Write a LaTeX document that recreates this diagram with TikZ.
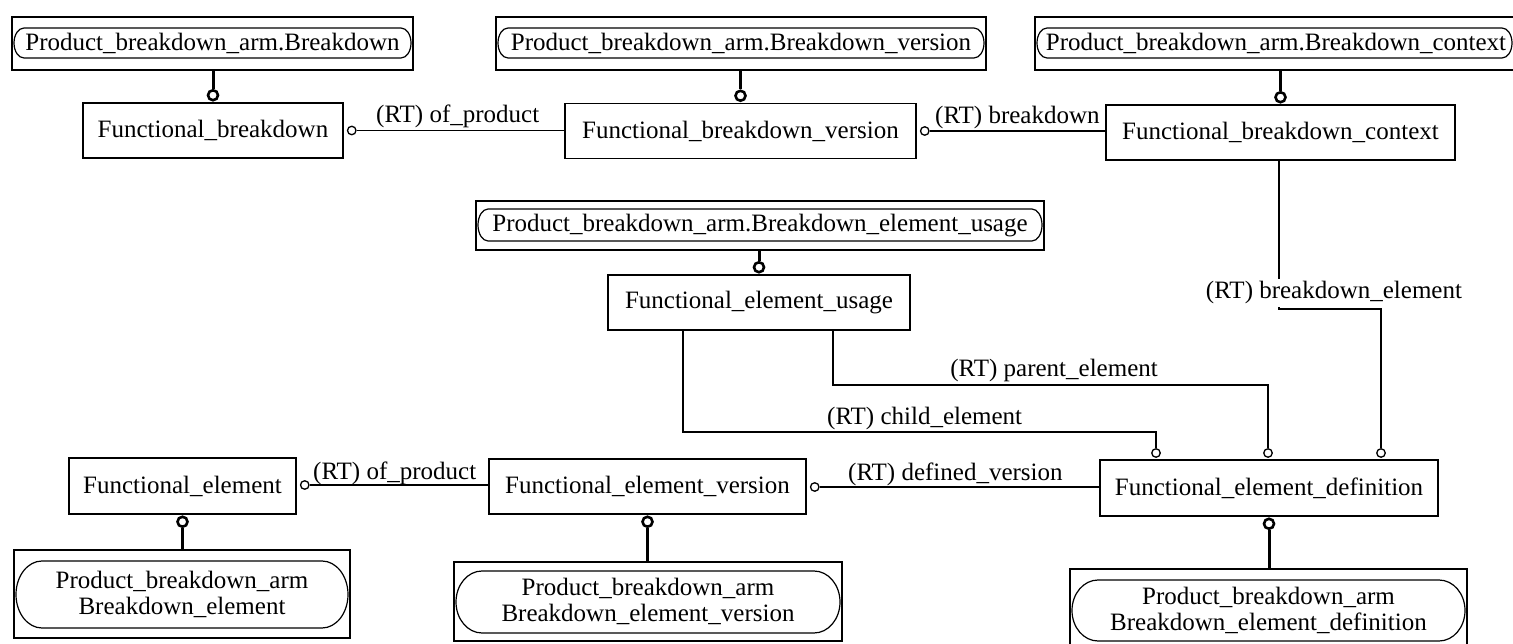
\documentclass[tikz,border=0pt]{standalone}
\usepackage{fontspec}
\setmainfont{Liberation Serif}
\usetikzlibrary{calc}
\newcommand\pbstad[5]{%
  \draw[inl] ({#1+#5},#2) -- ({#3-#5},#2)
    arc[start angle=-90,end angle=90,x radius=#5,y radius={(#4-#2)/2}]
    -- ({#1+#5},#4)
    arc[start angle=90,end angle=270,x radius=#5,y radius={(#4-#2)/2}] -- cycle;}
\begin{document}
\begin{tikzpicture}[x=1pt,y=-1pt,
  font=\fontsize{25}{26}\selectfont,
  ent/.style={draw, line width=1.5pt, inner sep=0pt, align=center},
  inl/.style={line width=1.2pt},
  conn/.style={line width=1.4pt},
  thk/.style={line width=3pt},
  scirc/.style={circle, draw, line width=1.3pt, inner sep=0pt, minimum size=8.5pt, fill=white},
  tcirc/.style={circle, draw, line width=2.6pt, inner sep=0pt, minimum size=10pt, fill=white},
  lbl/.style={inner sep=0pt}]
\useasboundingbox (0,0) rectangle (1513,644);
\clip (0,0) rectangle (1513,644);
\fill[white] (0,0) rectangle (1513,644);

% ---- top row ----
\node[ent, minimum width=401pt, minimum height=53pt] (pa) at (212.5,43.5) {Product\_breakdown\_arm.Breakdown};
\pbstad{14}{28}{411}{58}{10}
\node[ent, minimum width=490pt, minimum height=53pt] (pb) at (741,43.5) {Product\_breakdown\_arm.Breakdown\_version};
\pbstad{498}{28}{984}{58}{10}
\node[ent, minimum width=482pt, minimum height=53pt] (pc) at (1276,43.5) {Product\_breakdown\_arm.Breakdown\_context};
\pbstad{1037}{28}{1512}{58}{10}

\node[ent, minimum width=260pt, minimum height=55pt] (fb) at (213,130.5) {Functional\_breakdown};
\node[ent, minimum width=351pt, minimum height=55pt] (fbv) at (740.5,131) {Functional\_breakdown\_version};
\node[ent, minimum width=349pt, minimum height=55pt] (fbc) at (1280.5,132.5) {Functional\_breakdown\_context};

% thick supertype links (top)
\node[tcirc] (ta) at ($(fb.north)+(0,-7)$) {};
\draw[thk] (pa.south -| ta) -- (ta.north);
\node[tcirc] (tb) at ($(fbv.north)+(0,-7)$) {};
\draw[thk] (pb.south -| tb) -- (tb.north);
\node[tcirc] (tc) at ($(fbc.north)+(0,-7)$) {};
\draw[thk] (pc.south -| tc) -- (tc.north);

% of_product (top)
\node[scirc] (s1) at ($(fb.east)+(8,0)$) {};
\draw[conn] (s1.east) -- (s1 -| fbv.west);
\node[lbl, anchor=base west] (l1) at (376,123) {(RT) of\_product};
% breakdown
\node[scirc] (s2) at ($(fbv.east)+(8,0)$) {};
\draw[conn] (s2.east) -- (s2 -| fbc.west);
\node[lbl, anchor=base west] (l2) at (935,124) {(RT) breakdown};

% ---- middle ----
\node[ent, minimum width=568pt, minimum height=49pt] (pu) at (760,225.5) {Product\_breakdown\_arm.Breakdown\_element\_usage};
\pbstad{478}{209}{1042}{241}{10}
\node[ent, minimum width=302pt, minimum height=55pt] (feu) at (759,302.5) {Functional\_element\_usage};
\node[tcirc] (tu) at ($(feu.north)+(0,-7)$) {};
\draw[thk] (pu.south -| tu) -- (tu.north);

% ---- bottom row ----
\node[ent, minimum width=227pt, minimum height=56pt] (fe) at (182.5,486) {Functional\_element};
\node[ent, minimum width=317pt, minimum height=55pt] (fev) at (647.5,486.5) {Functional\_element\_version};
\node[ent, minimum width=338pt, minimum height=56pt] (fed) at (1269,488) {Functional\_element\_definition};

\node[ent, minimum width=336pt, minimum height=88pt] (pe) at (182,594) {Product\_breakdown\_arm\\Breakdown\_element};
\pbstad{16}{561}{348}{628}{26}
\node[ent, minimum width=388pt, minimum height=79pt] (pev) at (648,601.5) {Product\_breakdown\_arm\\Breakdown\_element\_version};
\pbstad{456}{571}{840}{633}{26}
\node[ent, minimum width=397pt, minimum height=82pt] (ped) at (1268.5,610) {Product\_breakdown\_arm\\Breakdown\_element\_definition};
\pbstad{1072}{580}{1465}{641}{26}

% thick supertype links (bottom)
\node[tcirc] (te) at ($(fe.south)+(0,7)$) {};
\draw[thk] (te.south) -- (te |- pe.north);
\node[tcirc] (tv) at ($(fev.south)+(0,7)$) {};
\draw[thk] (tv.south) -- (tv |- pev.north);
\node[tcirc] (td) at ($(fed.south)+(0,7)$) {};
\draw[thk] (td.south) -- (td |- ped.north);

% of_product (bottom)
\node[scirc] (s3) at ($(fe.east)+(8,-1)$) {};
\draw[conn] (s3.east) -- (s3 -| fev.west);
\node[lbl, anchor=base west] (l3) at (313,479) {(RT) of\_product};
% defined_version
\node[scirc] (s4) at ($(fev.east)+(8,0.5)$) {};
\draw[conn] (s4.east) -- (s4 -| fed.west);
\node[lbl, anchor=base west] (l4) at (848,480) {(RT) defined\_version};

% relations into Functional_element_definition
\node[scirc] (cc) at (1156,453) {};
\node[scirc] (cp) at (1268,453) {};
\node[scirc] (cb) at (1381,453) {};
\coordinate (chs) at (683,330);
\coordinate (pas) at (833,330);
\draw[conn] (chs) -- (683,432) -- (cc |- 0,432) -- (cc.north);
\draw[conn] (pas) -- (833,385) -- (cp |- 0,385) -- (cp.north);
\draw[conn] (fbc.south -| 1279,0) -- (1279,309) -- (cb |- 0,309) -- (cb.north);
\node[lbl, anchor=base west] (l5) at (827,424) {(RT) child\_element};
\node[lbl, anchor=base east] (l6) at (1158,376) {(RT) parent\_element};
\node[lbl, anchor=base, fill=white, inner xsep=1pt, inner ysep=3pt] (l7) at (1334,299) {(RT) breakdown\_element};
\end{tikzpicture}
\end{document}
